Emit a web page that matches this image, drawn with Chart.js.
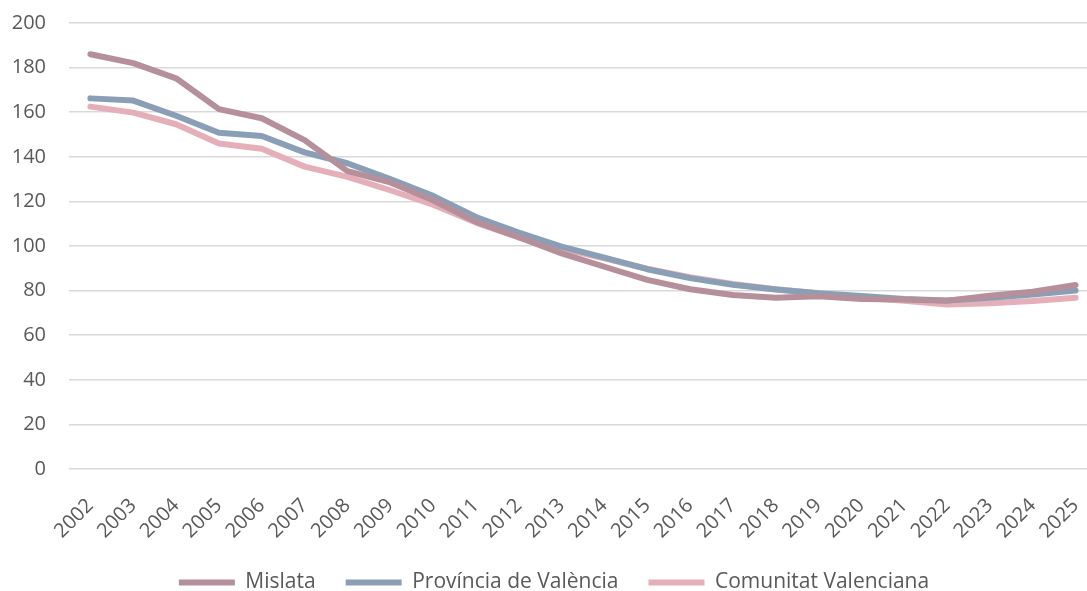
<!DOCTYPE html>
<html>
<head>
<meta charset="utf-8">
<script src="https://cdn.jsdelivr.net/npm/chart.js@4/dist/chart.umd.min.js"></script>
<style>
  html, body { margin: 0; padding: 0; background: #fff; overflow: hidden; }
  #wrap { width: 1100px; height: 591px; position: relative; }
</style>
</head>
<body>
<div id="wrap"><canvas id="grafico"></canvas></div>
<script>
const anys = ["2002", "2003", "2004", "2005", "2006", "2007", "2008", "2009", "2010", "2011", "2012", "2013",
  "2014", "2015", "2016", "2017", "2018", "2019", "2020", "2021", "2022", "2023", "2024", "2025"];

const mislata = [186, 182, 175.2, 161.4, 157.3, 147.5, 133.6, 128.5, 120.5, 110.8, 104, 96.7,
  90.7, 84.8, 80.6, 78, 76.8, 77.5, 76.2, 76, 75.5, 77.7, 79.5, 82.5];
const provincia = [166.2, 165.2, 158.4, 150.8, 149.3, 142, 137.1, 130, 122.5, 113, 106, 99.7,
  94.8, 89.6, 85.6, 82.6, 80.5, 78.8, 77.6, 76.2, 75.6, 76.8, 78.3, 80];
const comunitat = [162.5, 159.8, 154.6, 146, 143.6, 135.6, 131, 125, 118.5, 110.5, 103.8, 98.8,
  94.5, 89.8, 86, 83, 80.6, 78.8, 76.8, 75.5, 73.8, 74.3, 75.3, 76.8];

const colors = {
  mislata: "#b5909b",
  provincia: "#8a9fb5",
  comunitat: "#e5afb9"
};

const ctx = document.getElementById("grafico");
const fontFamily = "'Open Sans', 'DejaVu Sans', sans-serif";

function serie(label, data, color) {
  return {
    label: label,
    data: data,
    borderColor: color,
    backgroundColor: color,
    borderWidth: 6,
    borderCapStyle: "round",
    borderJoinStyle: "round",
    pointRadius: 0,
    tension: 0
  };
}

// legend: keep the wide gap between items but a fixed, smaller height
const legendAltura = {
  id: "legendAltura",
  beforeInit(chart) {
    const fitOriginal = chart.legend.fit;
    chart.legend.fit = function () {
      fitOriginal.bind(chart.legend)();
      this.height = 49;
    };
  }
};

new Chart(ctx, {
  type: "line",
  data: {
    labels: anys,
    datasets: [
      serie("Mislata", mislata, colors.mislata),
      serie("Província de València", provincia, colors.provincia),
      serie("Comunitat Valenciana", comunitat, colors.comunitat)
    ]
  },
  plugins: [legendAltura],
  options: {
    responsive: true,
    maintainAspectRatio: false,
    animation: false,
    layout: { padding: { left: 11, right: 3, top: 23, bottom: 0 } },
    plugins: {
      tooltip: { enabled: false },
      legend: {
        position: "bottom",
        labels: {
          color: "#595959",
          font: { family: fontFamily, size: 21 },
          boxWidth: 56,
          boxHeight: 6,
          padding: 30,
          generateLabels: chart => chart.data.datasets.map((ds, i) => ({
            text: ds.label,
            fillStyle: ds.borderColor,
            strokeStyle: ds.borderColor,
            lineWidth: 0,
            fontColor: "#595959",
            datasetIndex: i
          }))
        }
      }
    },
    scales: {
      x: {
        offset: true,
        grid: { display: false },
        border: { display: false },
        ticks: {
          color: "#595959",
          font: { family: fontFamily, size: 20 },
          maxRotation: 45,
          minRotation: 45,
          autoSkip: false,
          padding: 17
        },
        // the first rotated label must not push the plot to the right
        afterFit: s => { s.paddingLeft = 0; s.paddingRight = 0; s.height = 73; }
      },
      y: {
        min: 0,
        max: 200,
        ticks: {
          stepSize: 20,
          color: "#595959",
          font: { family: fontFamily, size: 20 },
          padding: 23
        },
        grid: { color: "#d9d9d9", lineWidth: 1.5, drawTicks: false },
        border: { display: false },
        afterFit: s => { s.width = 58; s.paddingTop = 0; s.paddingBottom = 0; }
      }
    }
  }
});
</script>
</body>
</html>
